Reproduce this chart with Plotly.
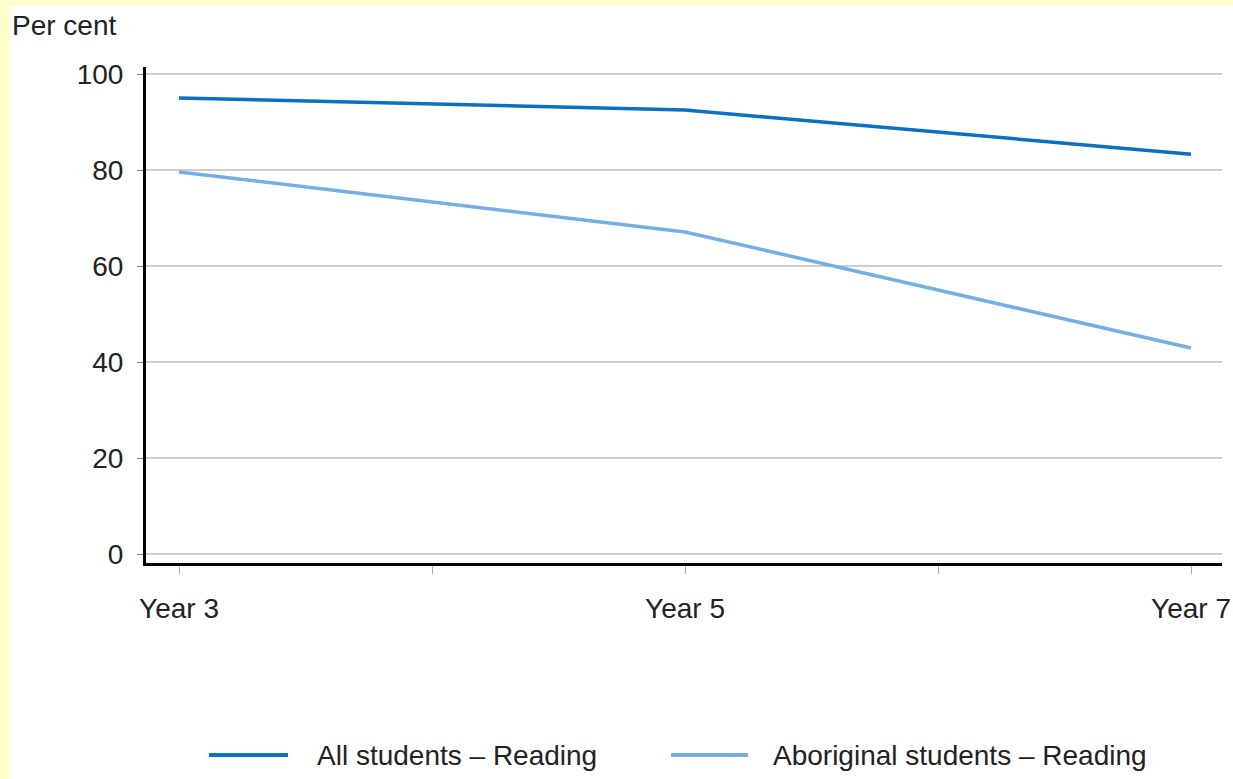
import plotly.graph_objects as go

years = [3, 5, 7]
year_labels = ["Year 3", "Year 5", "Year 7"]
all_students = [95.0, 92.5, 83.3]
aboriginal_students = [79.6, 67.1, 42.9]
series_names = ["All students \u2013 Reading", "Aboriginal students \u2013 Reading"]
y_ticks = [0, 20, 40, 60, 80, 100]

FONT = "Liberation Sans, Arial, sans-serif"
FS = 28
TXT = "#222222"
C_ALL = "#0A70BF"
C_ABO = "#74AEE3"

W, H = 1233, 779
L, R, T, B = 146, 11, 67, 216
pw, ph = W - L - R, H - T - B

def px2x(px):
    return (px - L) / pw

def py2y(py):
    return (H - B - py) / ph

fig = go.Figure()
fig.add_trace(go.Scatter(x=years, y=all_students, mode="lines",
                         line=dict(color=C_ALL, width=3.5), name=series_names[0]))
fig.add_trace(go.Scatter(x=years, y=aboriginal_students, mode="lines",
                         line=dict(color=C_ABO, width=3.5), name=series_names[1]))

shapes = [
    dict(type="rect", xref="paper", yref="paper", x0=px2x(10), x1=px2x(W + 5),
         y0=py2y(6), y1=py2y(H + 5), fillcolor="white", line=dict(width=0), layer="below"),
    dict(type="line", xref="paper", yref="paper", x0=px2x(209), x1=px2x(288),
         y0=py2y(755), y1=py2y(755), line=dict(color=C_ALL, width=4)),
    dict(type="line", xref="paper", yref="paper", x0=px2x(671), x1=px2x(748),
         y0=py2y(755), y1=py2y(755), line=dict(color=C_ABO, width=4)),
]
annotations = [
    dict(text="Per cent", xref="paper", yref="paper", x=px2x(10), y=py2y(26),
         xanchor="left", yanchor="middle", showarrow=False,
         font=dict(family=FONT, size=FS, color=TXT)),
    dict(text=series_names[0], xref="paper", yref="paper", x=px2x(315), y=py2y(755),
         xanchor="left", yanchor="middle", showarrow=False,
         font=dict(family=FONT, size=FS, color=TXT)),
    dict(text=series_names[1], xref="paper", yref="paper", x=px2x(771), y=py2y(755),
         xanchor="left", yanchor="middle", showarrow=False,
         font=dict(family=FONT, size=FS, color=TXT)),
]

fig.update_layout(
    width=W, height=H,
    margin=dict(l=L, r=R, t=T, b=B, pad=0, autoexpand=False),
    paper_bgcolor="#FFFFCC", plot_bgcolor="white",
    showlegend=False,
    shapes=shapes, annotations=annotations,
    font=dict(family=FONT, size=FS, color=TXT),
    xaxis=dict(range=[3 - 33 / 253, 7 + 31 / 253],
               tickmode="array", tickvals=[3, 4, 5, 6, 7],
               ticktext=[year_labels[0], "", year_labels[1], "", year_labels[2]],
               showgrid=False, zeroline=False, automargin=False,
               showline=True, linecolor="black", linewidth=3,
               ticks="outside", ticklen=8, tickwidth=1, tickcolor="#AAAAAA",
               ticklabelstandoff=10, ticklabeloverflow="allow",
               tickfont=dict(family=FONT, size=FS, color=TXT)),
    yaxis=dict(range=[-9 / 4.8, 100 + 7 / 4.8],
               tickvals=y_ticks, automargin=False,
               showgrid=True, gridcolor="#CCCCCC", gridwidth=2, zeroline=False,
               showline=True, linecolor="black", linewidth=3,
               ticks="outside", ticklen=6, tickwidth=1, tickcolor="#777777",
               ticklabelstandoff=8,
               tickfont=dict(family=FONT, size=FS, color=TXT)),
)

fig.write_html("out.html")
